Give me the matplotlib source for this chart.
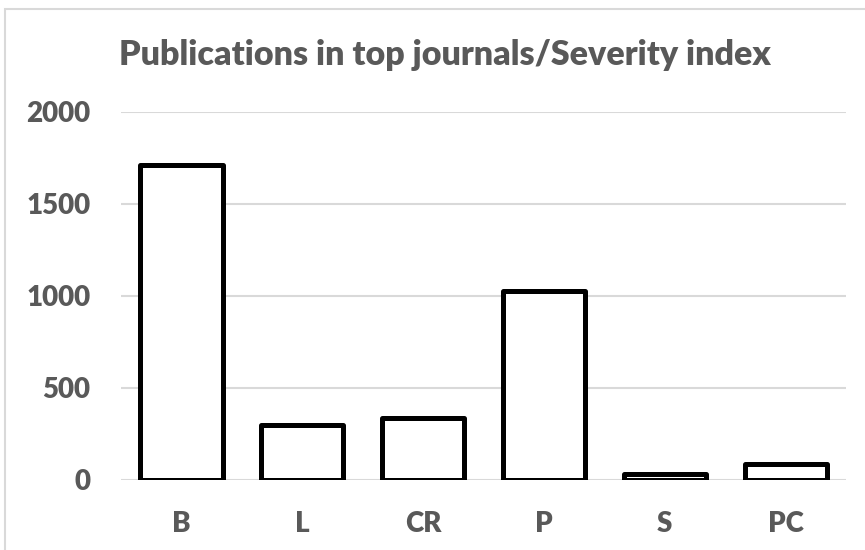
import matplotlib.pyplot as plt
from matplotlib.patches import Rectangle

categories = ["B", "L", "CR", "P", "S", "PC"]
counts = [1710, 298, 335, 1025, 35, 85]
yticks = [0, 500, 1000, 1500, 2000]

grey_text = "#595959"
grid_grey = "#d9d9d9"

plt.rcParams["font.family"] = ["Lato", "DejaVu Sans"]

fig = plt.figure(figsize=(8.65, 5.5), dpi=100)
W, H = 865, 550
# plot area in pixels: left 121, right 846, top 112, bottom 480
ax = fig.add_axes([121 / W, 1 - 480 / H, (846 - 121) / W, (480 - 112) / H])

x = range(len(categories))
ax.bar(x, counts, width=0.68, color="white", edgecolor="black",
       linewidth=3.6, joinstyle="round", zorder=3)

ax.set_xlim(-0.5, len(categories) - 0.5)
ax.set_ylim(0, 2000)
ax.set_yticks(yticks)
ax.set_yticklabels([str(t) for t in yticks])
ax.set_xticks(list(x))
ax.set_xticklabels(categories)
ax.yaxis.grid(True, color=grid_grey, linewidth=1.5, zorder=0)
ax.set_axisbelow(True)
for s in ax.spines.values():
    s.set_visible(False)
ax.tick_params(length=0, labelsize=20, labelcolor=grey_text)
ax.tick_params(axis="y", pad=22)
ax.tick_params(axis="x", pad=22)
for lab in ax.get_xticklabels() + ax.get_yticklabels():
    lab.set_fontweight("heavy")

fig.text(445 / W, 1 - 55 / H, "Publications in top journals/Severity index",
         ha="center", va="center", fontsize=24.5, fontweight="heavy", color=grey_text)

# chart frame
fig.patches.append(Rectangle((5 / W, -0.1), 1.2, 1 - 9 / H + 0.1,
                             transform=fig.transFigure, fill=False,
                             edgecolor=grid_grey, linewidth=1.5))

fig.savefig("out.png", dpi=100)
plt.close(fig)
